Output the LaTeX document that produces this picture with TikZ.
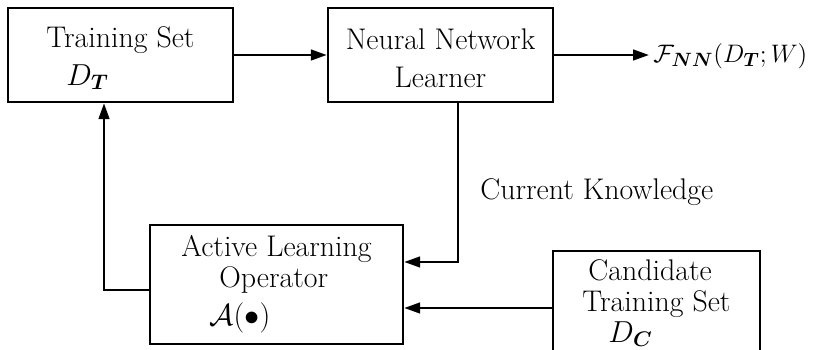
\documentclass[tikz,border=0pt]{standalone}
\usepackage{amsmath,amssymb}
\usetikzlibrary{arrows.meta}

\begin{document}
\begin{tikzpicture}[
  x=0.02cm, y=-0.02cm,
  block/.style = {draw, line width=1.4pt, inner sep=0pt, align=left,
                  font={\fontsize{17}{21.6}\selectfont}},
  arrow/.style = {line width=1.4pt, -{Triangle[length=9pt,width=6pt]}},
  lbl/.style   = {inner sep=0pt, font={\fontsize{17}{21.6}\selectfont}},
]
  \clip (0,0) rectangle (823,350);

  \node[block, minimum width=4.5cm, minimum height=1.88cm] (ts) at (120.5,55)
    {\rule{0pt}{0.55cm}Training Set\\\hspace*{0.4cm}$D_{\boldsymbol{T}}$};
  \node[block, minimum width=4.5cm, minimum height=1.88cm, align=center] (nn) at (440.5,55)
    {\rule{0pt}{0.55cm}Neural Network\\Learner};
  \node[block, minimum width=5.06cm, minimum height=2.38cm] (al) at (276.5,284.5)
    {Active Learning\\[-4pt]\hspace*{0.76cm}Operator\\\hspace*{0.56cm}$\mathcal{A}(\bullet)$};
  \node[block, minimum width=4.14cm, minimum height=2.08cm] (cand) at (656.5,303)
    {\hspace*{0.12cm}Candidate\\[-4pt]Training Set\\[-4pt]\hspace*{0.52cm}$D_{\boldsymbol{C}}$};

  \node[lbl, anchor=west, font={\fontsize{15.5}{20}\selectfont}] (out) at (653,56)
    {$\mathcal{F}_{\boldsymbol{NN}}(D_{\boldsymbol{T}};W)$};
  \node[lbl, anchor=west] (know) at (480,192) {Current Knowledge};

  \draw[arrow] (ts) -- (nn);
  \draw[arrow] (nn.east) -- ([xshift=-0.08cm]nn.east -| out.west);
  % knowledge fed back from the learner
  \draw[arrow] ([xshift=0.35cm]nn.south) |- ([yshift=0.45cm]al.east);
  \draw[arrow] ([yshift=-0.1cm]cand.west) -- ([yshift=-0.1cm]cand.west -| al.east);
  % selected samples go back into the training set
  \draw[arrow] ([yshift=-0.11cm]al.west) -| ([xshift=-0.33cm]ts.south);
\end{tikzpicture}
\end{document}
